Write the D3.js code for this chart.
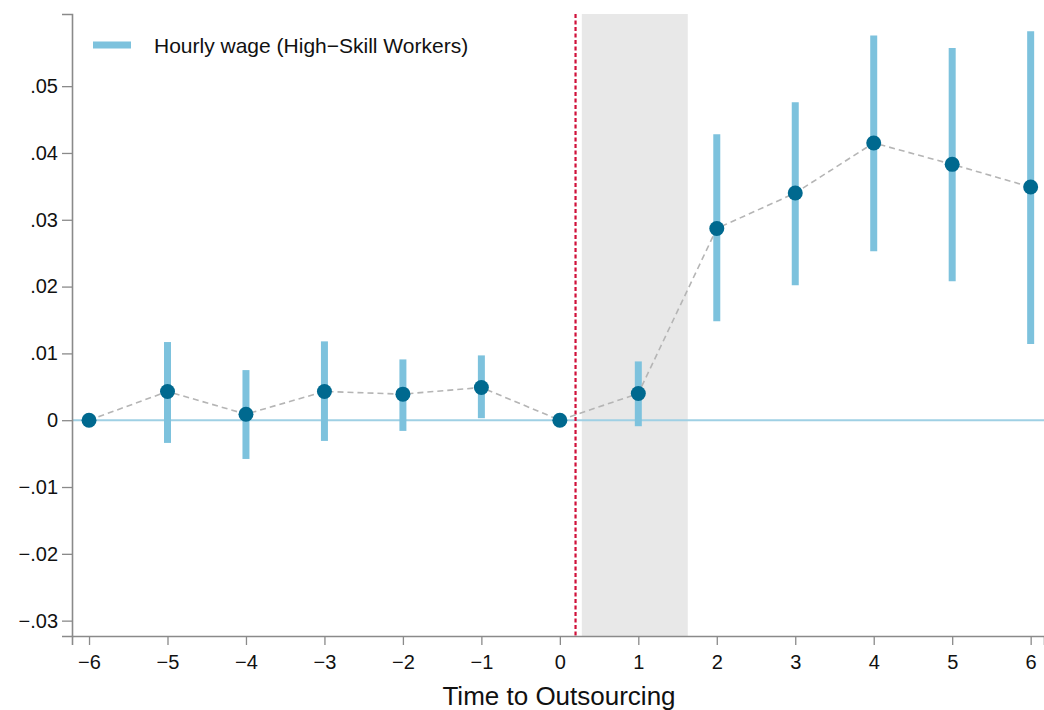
<!DOCTYPE html>
<html>
<head>
<meta charset="utf-8">
<script src="https://cdn.jsdelivr.net/npm/d3@7"></script>
<style>
  body { margin: 0; background: #fff; }
  text { font-family: "Liberation Sans", Arial, sans-serif; }
</style>
</head>
<body>
<div id="chart"></div>
<script>
// event-study estimates
var periods = [-6, -5, -4, -3, -2, -1, 0, 1, 2, 3, 4, 5, 6];
var coef  = [0, 0.0043, 0.0009, 0.0043, 0.0039, 0.0049, 0, 0.0040, 0.0287, 0.0340, 0.0415, 0.0383, 0.0349];
var ciLow = [null, -0.0034, -0.0058, -0.0031, -0.0016, 0.0003, null, -0.0009, 0.0148, 0.0202, 0.0253, 0.0208, 0.0114];
var ciHigh = [null, 0.0117, 0.0075, 0.0118, 0.0091, 0.0097, null, 0.0088, 0.0428, 0.0476, 0.0576, 0.0557, 0.0582];
var yTicks = [-0.03, -0.02, -0.01, 0, 0.01, 0.02, 0.03, 0.04, 0.05];
var treatLine = 0.2;
var shadeRange = [0.28, 1.63];
var legendLabel = "Hourly wage (High\u2212Skill Workers)";
var xTitle = "Time to Outsourcing";

var W = 1044, H = 710;
var margin = {top: 14, right: 0, bottom: 74, left: 72};

var svg = d3.select("#chart").append("svg")
    .attr("width", W).attr("height", H);

var x = d3.scaleLinear().domain([-6.217, 6.17]).range([margin.left, W - margin.right]);
var y = d3.scaleLinear().domain([-0.0323, 0.0608]).range([H - margin.bottom, margin.top]);

var ciColor = "#7dc2dd", dotColor = "#00698f", axisColor = "#8a8a8a";

// shaded window
svg.append("rect")
    .attr("x", x(shadeRange[0])).attr("y", margin.top)
    .attr("width", x(shadeRange[1]) - x(shadeRange[0]))
    .attr("height", y.range()[0] - margin.top)
    .attr("fill", "#e8e8e8");

// zero line
svg.append("line")
    .attr("x1", margin.left).attr("x2", W)
    .attr("y1", y(0)).attr("y2", y(0))
    .attr("stroke", "#9fd0e4").attr("stroke-width", 2);

// treatment line
svg.append("line")
    .attr("x1", x(treatLine)).attr("x2", x(treatLine))
    .attr("y1", margin.top).attr("y2", y.range()[0])
    .attr("stroke", "#d0103a").attr("stroke-width", 2.2)
    .attr("stroke-dasharray", "4,2.5");

// axes
var xAxis = svg.append("g")
    .attr("transform", "translate(0," + y.range()[0] + ")")
    .call(d3.axisBottom(x).tickValues(periods).tickSize(9).tickPadding(10)
        .tickFormat(function(d){ return d < 0 ? "\u2212" + Math.abs(d) : d; }));
var yAxis = svg.append("g")
    .attr("transform", "translate(" + margin.left + ",0)")
    .call(d3.axisLeft(y).tickValues(yTicks).tickSize(10).tickPadding(4)
        .tickFormat(function(d){
            if (Math.abs(d) < 1e-9) return "0";
            var s = Math.abs(d).toFixed(2).replace(/^0/, "");
            return d < 0 ? "\u2212" + s : s;
        }));
[xAxis, yAxis].forEach(function(a){
    a.select(".domain").attr("stroke", axisColor).attr("stroke-width", 1.6);
    a.selectAll(".tick line").attr("stroke", axisColor).attr("stroke-width", 1.3);
    a.selectAll(".tick text").attr("fill", "#111").style("font-size", "20px");
});

// confidence intervals
var rows = periods.map(function(p, i){ return {p: p, b: coef[i], lo: ciLow[i], hi: ciHigh[i]}; });
svg.selectAll(".ci")
    .data(rows.filter(function(d){ return d.lo !== null; }))
    .enter().append("line")
    .attr("x1", function(d){ return x(d.p); })
    .attr("x2", function(d){ return x(d.p); })
    .attr("y1", function(d){ return y(d.lo); })
    .attr("y2", function(d){ return y(d.hi); })
    .attr("stroke", ciColor).attr("stroke-width", 7);

// connecting dashed line
svg.append("path")
    .datum(rows)
    .attr("d", d3.line().x(function(d){ return x(d.p); }).y(function(d){ return y(d.b); }))
    .attr("fill", "none").attr("stroke", "#b5b5b5")
    .attr("stroke-width", 1.6).attr("stroke-dasharray", "6,4");

// points
svg.selectAll(".pt")
    .data(rows)
    .enter().append("circle")
    .attr("cx", function(d){ return x(d.p); })
    .attr("cy", function(d){ return y(d.b); })
    .attr("r", 7.5)
    .attr("fill", dotColor);

// legend
svg.append("line")
    .attr("x1", 93).attr("x2", 131).attr("y1", 45).attr("y2", 45)
    .attr("stroke", ciColor).attr("stroke-width", 7);
svg.append("text")
    .attr("x", 154).attr("y", 53)
    .style("font-size", "21px").attr("fill", "#111")
    .text(legendLabel);

// x title
svg.append("text")
    .attr("x", 559).attr("y", 705)
    .attr("text-anchor", "middle")
    .style("font-size", "26px").attr("fill", "#111")
    .text(xTitle);
</script>
</body>
</html>
